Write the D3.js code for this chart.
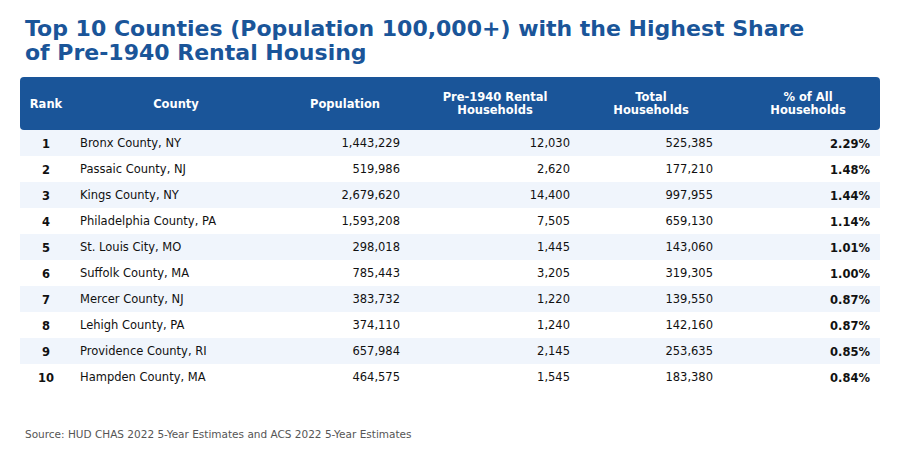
<!DOCTYPE html>
<html><head><meta charset="utf-8">
<script src="https://cdn.jsdelivr.net/npm/d3@7"></script>
<style>html,body{margin:0;padding:0;background:#fff;}svg{display:block;font-family:"DejaVu Sans",sans-serif;}</style>
</head><body>
<svg id="c" width="900" height="460"></svg>
<script>
const titleLines = ["Top 10 Counties (Population 100,000+) with the Highest Share", "of Pre-1940 Rental Housing"];
const headers = [["Rank"], ["County"], ["Population"], ["Pre-1940 Rental", "Households"], ["Total", "Households"], ["% of All", "Households"]];
const ranks = [1,2,3,4,5,6,7,8,9,10];
const counties = ["Bronx County, NY","Passaic County, NJ","Kings County, NY","Philadelphia County, PA","St. Louis City, MO","Suffolk County, MA","Mercer County, NJ","Lehigh County, PA","Providence County, RI","Hampden County, MA"];
const population = [1443229,519986,2679620,1593208,298018,785443,383732,374110,657984,464575];
const pre1940 = [12030,2620,14400,7505,1445,3205,1220,1240,2145,1545];
const totalHH = [525385,177210,997955,659130,143060,319305,139550,142160,253635,183380];
const pctAll = [2.29,1.48,1.44,1.14,1.01,1.00,0.87,0.87,0.85,0.84];
const source = "Source: HUD CHAS 2022 5-Year Estimates and ACS 2022 5-Year Estimates";

const svg = d3.select("#c");
const blue = "#1a5599";
const fmt = d3.format(",");

// title
svg.append("g").selectAll("text").data(titleLines).join("text")
  .attr("x", 25).attr("y", (d,i)=>36 + i*24)
  .attr("fill", blue).attr("font-size", 22).attr("font-weight", "bold").text(d=>d);

// layout
const left = 20, right = 880, headTop = 77, headH = 53;
const y = d3.scaleBand().domain(ranks).range([headTop+headH, headTop+headH+26*10]);

svg.append("rect").attr("x", left).attr("y", headTop).attr("width", right-left).attr("height", headH)
  .attr("rx", 4).attr("fill", blue);

const headerCenters = [46, 176, 345, 495, 651, 808];
const hg = svg.append("g").attr("fill", "#fff").attr("font-size", 11.5).attr("font-weight", "bold").attr("text-anchor", "middle");
headers.forEach((lines, c) => {
  const n = lines.length;
  lines.forEach((t, i) => {
    hg.append("text").attr("x", headerCenters[c])
      .attr("y", headTop + headH/2 + 4 + (i - (n-1)/2) * 13.5).text(t);
  });
});

// rows
const rows = ranks.map((r,i)=>({r, i}));
svg.append("g").selectAll("rect").data(rows).join("rect")
  .attr("x", left).attr("width", right-left)
  .attr("y", d=>y(d.r)).attr("height", y.bandwidth())
  .attr("fill", d=> d.i % 2 === 0 ? "#f0f5fc" : "#ffffff");

const cols = [
  {vals: ranks.map(String), x: 46, anchor: "middle", bold: true},
  {vals: counties, x: 80, anchor: "start", bold: false},
  {vals: population.map(fmt), x: 400, anchor: "end", bold: false},
  {vals: pre1940.map(fmt), x: 570, anchor: "end", bold: false},
  {vals: totalHH.map(fmt), x: 713, anchor: "end", bold: false},
  {vals: pctAll.map(v=>v.toFixed(2)+"%"), x: 870, anchor: "end", bold: true}
];
cols.forEach(col => {
  svg.append("g").selectAll("text").data(rows).join("text")
    .attr("x", col.x).attr("y", d=>y(d.r) + y.bandwidth()/2 + 4 + (col.bold ? 1 : 0))
    .attr("text-anchor", col.anchor).attr("font-size", 11.5)
    .attr("font-weight", col.bold ? "bold" : "normal")
    .attr("fill", "#111").text(d=>col.vals[d.i]);
});

svg.append("text").attr("x", 25).attr("y", 438).attr("font-size", 10.5).attr("fill", "#555").text(source);
</script>
</body></html>
